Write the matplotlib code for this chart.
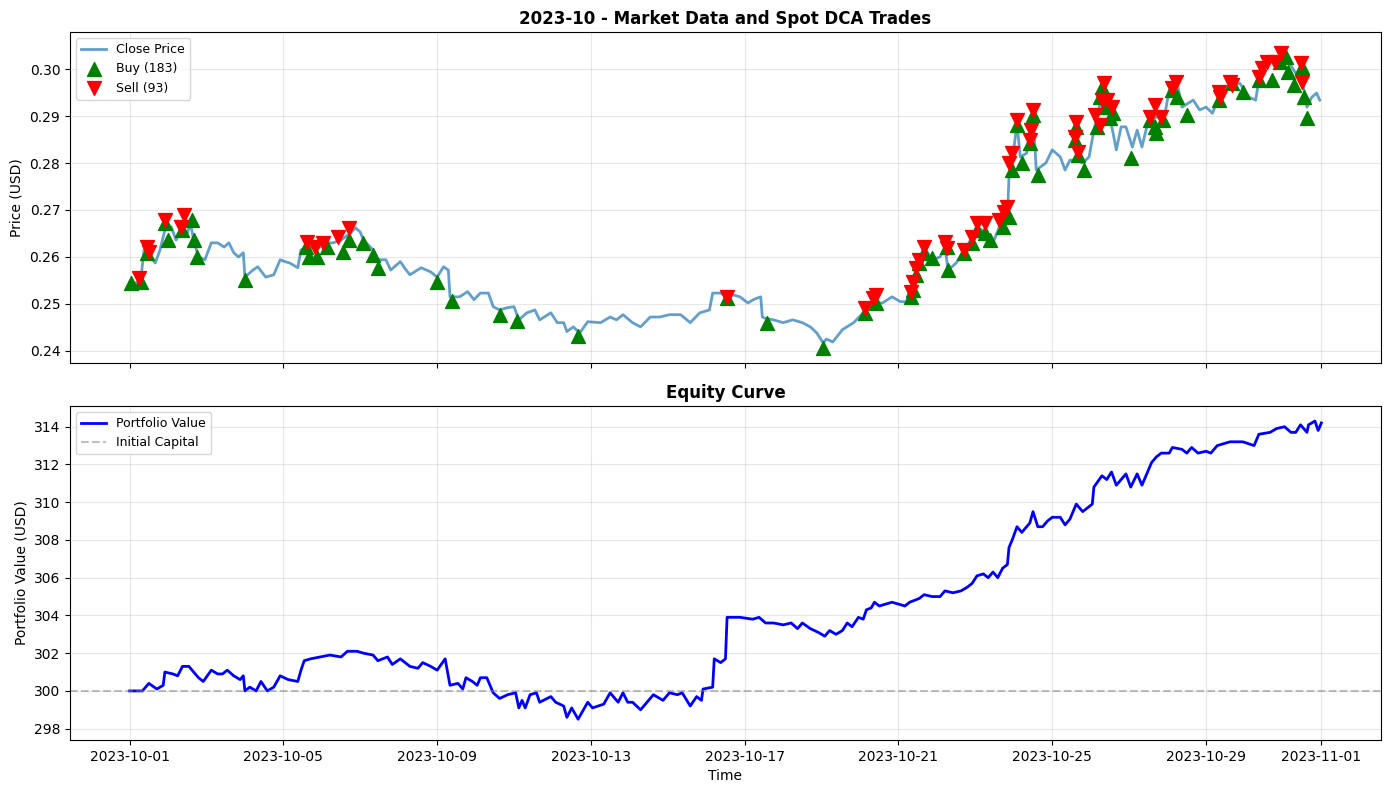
import matplotlib
matplotlib.use('Agg')
import matplotlib.pyplot as plt
import matplotlib.dates as mdates
import pandas as pd

start = pd.Timestamp('2023-10-01 00:00')

# close price (hours since start, USD)
price_hours = [0, 3, 7, 9, 12, 16, 19, 22, 26, 29, 33, 36, 38, 40, 43, 47, 51, 55, 59, 62, 65, 68, 71, 72, 77, 80,
               85, 90, 94, 97, 100, 105, 107, 113, 117, 121, 127, 132, 138, 141, 144, 146, 152, 155, 160, 163, 169,
               172, 175, 182, 188, 192, 196, 199, 200, 206, 211, 215, 219, 224, 227, 231, 236, 240, 243, 248, 253,
               256, 263, 267, 271, 273, 277, 281, 286, 294, 300, 304, 308, 314, 319, 325, 331, 337, 344, 350, 356,
               362, 364, 369, 373, 377, 381, 386, 390, 394, 395, 398, 402, 408, 414, 420, 425, 429, 433, 435, 439,
               445, 452, 458, 464, 470, 476, 481, 485, 487, 489, 491, 493, 496, 501, 506, 509, 511, 516, 520, 524,
               529, 535, 539, 543, 548, 549, 551, 552, 554, 556, 560, 562, 564, 566, 572, 576, 581, 584, 587, 591,
               595, 599, 602, 606, 609, 612, 616, 619, 622, 626, 629, 632, 635, 641, 646, 649, 654, 657, 664, 668,
               672, 676, 680, 687, 693, 699, 703, 705, 710, 716, 720, 724, 728, 732, 735, 738, 741, 743]
close_price = [0.2545, 0.2543, 0.2551, 0.2615, 0.2605, 0.2587, 0.2615, 0.2657, 0.2664, 0.2636, 0.2664, 0.2650,
               0.2672, 0.2636, 0.2600, 0.2594, 0.2630, 0.2630, 0.2621, 0.2630, 0.2609, 0.2600, 0.2609, 0.2557,
               0.2572, 0.2579, 0.2557, 0.2562, 0.2594, 0.2590, 0.2587, 0.2577, 0.2615, 0.2621, 0.2615, 0.2630,
               0.2630, 0.2636, 0.2651, 0.2662, 0.2653, 0.2636, 0.2615, 0.2594, 0.2594, 0.2572, 0.2590, 0.2575,
               0.2562, 0.2577, 0.2568, 0.2557, 0.2579, 0.2572, 0.2515, 0.2515, 0.2526, 0.2509, 0.2523, 0.2523,
               0.2494, 0.2487, 0.2492, 0.2494, 0.2466, 0.2481, 0.2487, 0.2466, 0.2481, 0.2460, 0.2460, 0.2441,
               0.2451, 0.2438, 0.2462, 0.2460, 0.2472, 0.2466, 0.2477, 0.2460, 0.2451, 0.2472, 0.2472, 0.2477,
               0.2477, 0.2460, 0.2481, 0.2487, 0.2523, 0.2523, 0.2515, 0.2519, 0.2515, 0.2502, 0.2510, 0.2515,
               0.2472, 0.2468, 0.2466, 0.2460, 0.2466, 0.2460, 0.2451, 0.2438, 0.2417, 0.2425, 0.2419, 0.2445,
               0.2460, 0.2481, 0.2502, 0.2502, 0.2515, 0.2505, 0.2504, 0.2530, 0.2545, 0.2572, 0.2594, 0.2621,
               0.2594, 0.2600, 0.2621, 0.2572, 0.2587, 0.2609, 0.2630, 0.2664, 0.2651, 0.2630, 0.2664, 0.2685,
               0.2770, 0.2800, 0.2830, 0.2885, 0.2813, 0.2821, 0.2870, 0.2906, 0.2785, 0.2800, 0.2828, 0.2813,
               0.2785, 0.2806, 0.2806, 0.2800, 0.2813, 0.2870, 0.2928, 0.2955, 0.2898, 0.2828, 0.2877, 0.2877,
               0.2834, 0.2870, 0.2834, 0.2877, 0.2898, 0.2898, 0.2955, 0.2970, 0.2919, 0.2934, 0.2913, 0.2919,
               0.2906, 0.2940, 0.2962, 0.2970, 0.2940, 0.2934, 0.2977, 0.3013, 0.3019, 0.3040, 0.3013, 0.2991,
               0.2977, 0.2919, 0.2940, 0.2949, 0.2934]

# trades (hours since start, fill price)
buy_hours = [1, 7, 11, 22, 24, 33, 39, 40, 42, 72, 110, 112, 117, 123, 133, 137, 146, 152, 155, 192, 201, 231,
             242, 280, 373, 398, 433, 459, 466, 488, 489, 491, 493, 496, 501, 510, 511, 521, 526, 529, 534, 537,
             545, 549, 551, 554, 557, 562, 564, 567, 590, 591, 592, 596, 604, 606, 607, 609, 612, 614, 625, 637,
             640, 641, 645, 651, 654, 660, 680, 688, 695, 705, 713, 718, 722, 723, 727, 732, 733, 735]
buy_price = [0.2545, 0.2547, 0.2609, 0.2672, 0.2636, 0.2657, 0.2679, 0.2636, 0.2600, 0.2551, 0.2621, 0.2600,
             0.2600, 0.2621, 0.2611, 0.2636, 0.2630, 0.2604, 0.2577, 0.2547, 0.2506, 0.2477, 0.2464, 0.2432,
             0.2513, 0.2460, 0.2406, 0.2481, 0.2502, 0.2515, 0.2530, 0.2562, 0.2587, 0.2609, 0.2598, 0.2621,
             0.2572, 0.2609, 0.2630, 0.2657, 0.2651, 0.2636, 0.2664, 0.2685, 0.2785, 0.2881, 0.2800, 0.2843,
             0.2902, 0.2774, 0.2849, 0.2877, 0.2817, 0.2785, 0.2877, 0.2940, 0.2962, 0.2919, 0.2896, 0.2906,
             0.2811, 0.2891, 0.2877, 0.2864, 0.2891, 0.2955, 0.2940, 0.2902, 0.2934, 0.2970, 0.2951, 0.2977,
             0.2977, 0.3015, 0.3026, 0.2994, 0.2966, 0.3004, 0.2940, 0.2896]
sell_hours = [6, 11, 12, 22, 34, 32, 111, 116, 121, 130, 137, 373, 459, 464, 466, 488, 489, 491, 493, 496, 509,
              510, 521, 526, 529, 534, 543, 546, 548, 549, 551, 554, 562, 563, 564, 590, 591, 592, 603, 606, 608,
              607, 610, 613, 637, 640, 644, 651, 653, 680, 681, 687, 688, 705, 707, 710, 715, 719, 731, 732]
sell_price = [0.2555, 0.2621, 0.2611, 0.2679, 0.2689, 0.2664, 0.2632, 0.2621, 0.2630, 0.2643, 0.2662, 0.2515,
              0.2491, 0.2513, 0.2519, 0.2526, 0.2547, 0.2577, 0.2594, 0.2621, 0.2632, 0.2619, 0.2615, 0.2643,
              0.2672, 0.2672, 0.2679, 0.2696, 0.2706, 0.2800, 0.2821, 0.2891, 0.2849, 0.2870, 0.2913, 0.2855,
              0.2887, 0.2823, 0.2902, 0.2881, 0.2970, 0.2934, 0.2934, 0.2919, 0.2898, 0.2923, 0.2898, 0.2960,
              0.2972, 0.2951, 0.2940, 0.2972, 0.2966, 0.2983, 0.3002, 0.3015, 0.3015, 0.3034, 0.3013, 0.2972]
n_buys = 183
n_sells = 93

# portfolio value (hours since start, USD)
equity_hours = [0, 8, 12, 17, 21, 22, 27, 30, 33, 37, 40, 43, 46, 51, 55, 58, 61, 65, 69, 71, 72, 75, 79, 82, 86,
                90, 94, 99, 105, 107, 109, 113, 119, 125, 132, 136, 142, 146, 152, 155, 161, 164, 169, 175, 180,
                183, 188, 192, 197, 200, 205, 208, 210, 214, 217, 219, 223, 227, 231, 236, 241, 243, 245, 247, 250,
                254, 256, 263, 266, 271, 273, 276, 280, 286, 289, 296, 300, 305, 308, 311, 314, 319, 323, 327, 333,
                337, 342, 345, 350, 354, 357, 358, 364, 365, 369, 372, 373, 377, 381, 389, 393, 397, 402, 408, 413,
                417, 420, 425, 430, 434, 437, 441, 445, 448, 451, 455, 458, 460, 463, 465, 468, 476, 484, 487, 493,
                496, 501, 506, 509, 514, 519, 523, 526, 529, 533, 536, 539, 542, 545, 548, 549, 551, 554, 556, 557,
                562, 564, 567, 570, 573, 576, 581, 584, 587, 591, 595, 601, 602, 607, 610, 613, 616, 622, 625, 629,
                632, 635, 638, 641, 644, 649, 651, 657, 660, 663, 667, 672, 675, 679, 687, 695, 702, 705, 712, 716,
                721, 725, 728, 731, 735, 736, 740, 742, 744]
portfolio_value = [300.0, 300.0, 300.4, 300.1, 300.3, 301.0, 300.9, 300.8, 301.3, 301.3, 301.0, 300.7, 300.5,
                   301.1, 300.9, 300.9, 301.1, 300.8, 300.6, 300.8, 300.0, 300.2, 300.0, 300.5, 300.0, 300.2,
                   300.8, 300.6, 300.5, 301.1, 301.6, 301.7, 301.8, 301.9, 301.8, 302.1, 302.1, 302.0, 301.9,
                   301.6, 301.8, 301.4, 301.7, 301.3, 301.2, 301.5, 301.3, 301.1, 301.7, 300.3, 300.4, 300.1,
                   300.7, 300.5, 300.3, 300.7, 300.7, 299.9, 299.6, 299.8, 299.9, 299.1, 299.5, 299.1, 299.8,
                   299.9, 299.4, 299.7, 299.4, 299.2, 298.6, 299.1, 298.5, 299.4, 299.1, 299.3, 299.9, 299.4,
                   299.9, 299.4, 299.4, 299.0, 299.4, 299.8, 299.5, 299.9, 299.8, 299.9, 299.2, 299.7, 299.5,
                   300.1, 300.2, 301.7, 301.5, 301.7, 303.9, 303.9, 303.9, 303.8, 303.9, 303.6, 303.6, 303.5,
                   303.6, 303.3, 303.6, 303.3, 303.1, 302.9, 303.2, 303.0, 303.2, 303.6, 303.4, 303.9, 303.8,
                   304.3, 304.4, 304.7, 304.5, 304.7, 304.5, 304.7, 304.9, 305.1, 305.0, 305.0, 305.3, 305.2,
                   305.3, 305.5, 305.7, 306.1, 306.2, 306.0, 306.3, 306.0, 306.5, 306.7, 307.6, 308.0, 308.7,
                   308.5, 308.4, 308.9, 309.5, 308.7, 308.7, 309.0, 309.2, 309.2, 308.8, 309.1, 309.9, 309.5,
                   309.9, 310.8, 311.4, 311.2, 311.6, 310.9, 311.5, 310.8, 311.5, 310.9, 311.5, 312.1, 312.4,
                   312.6, 312.6, 312.9, 312.8, 312.6, 312.9, 312.6, 312.7, 312.6, 313.0, 313.2, 313.2, 313.0,
                   313.6, 313.7, 313.9, 314.0, 313.7, 313.7, 314.1, 313.7, 314.1, 314.3, 313.8, 314.2]
initial_capital = 300


def to_time(hours):
    return start + pd.to_timedelta(hours, unit='h')


fig, (ax1, ax2) = plt.subplots(2, 1, figsize=(13.89, 7.9), dpi=100, sharex=True,
                               gridspec_kw={'height_ratios': [331, 334]})

ax1.plot(to_time(price_hours), close_price, label='Close Price', alpha=0.7, linewidth=2)
ax1.scatter(to_time(buy_hours), buy_price, marker='^', color='green', s=100, label=f'Buy ({n_buys})', zorder=5)
ax1.scatter(to_time(sell_hours), sell_price, marker='v', color='red', s=100, label=f'Sell ({n_sells})', zorder=5)
ax1.set_ylabel('Price (USD)')
ax1.set_title('2023-10 - Market Data and Spot DCA Trades', fontsize=12, fontweight='bold')
ax1.legend(loc='upper left', fontsize=9)
ax1.grid(True, alpha=0.3)
ax1.set_ylim(0.2374, 0.3079)

ax2.plot(to_time(equity_hours), portfolio_value, color='blue', linewidth=2, label='Portfolio Value')
ax2.axhline(initial_capital, color='gray', linestyle='--', alpha=0.5, label='Initial Capital')
ax2.set_ylabel('Portfolio Value (USD)')
ax2.set_xlabel('Time')
ax2.set_title('Equity Curve', fontsize=12, fontweight='bold')
ax2.legend(loc='upper left', fontsize=9)
ax2.grid(True, alpha=0.3)
ax2.set_ylim(297.4, 315.1)

ax2.xaxis.set_major_locator(mdates.DayLocator(bymonthday=[1, 5, 9, 13, 17, 21, 25, 29]))
ax2.xaxis.set_major_formatter(mdates.DateFormatter('%Y-%m-%d'))

fig.subplots_adjust(left=0.0504, right=0.9942, top=0.9595, bottom=0.0633, hspace=0.129)
plt.savefig('out.png')
plt.close(fig)
